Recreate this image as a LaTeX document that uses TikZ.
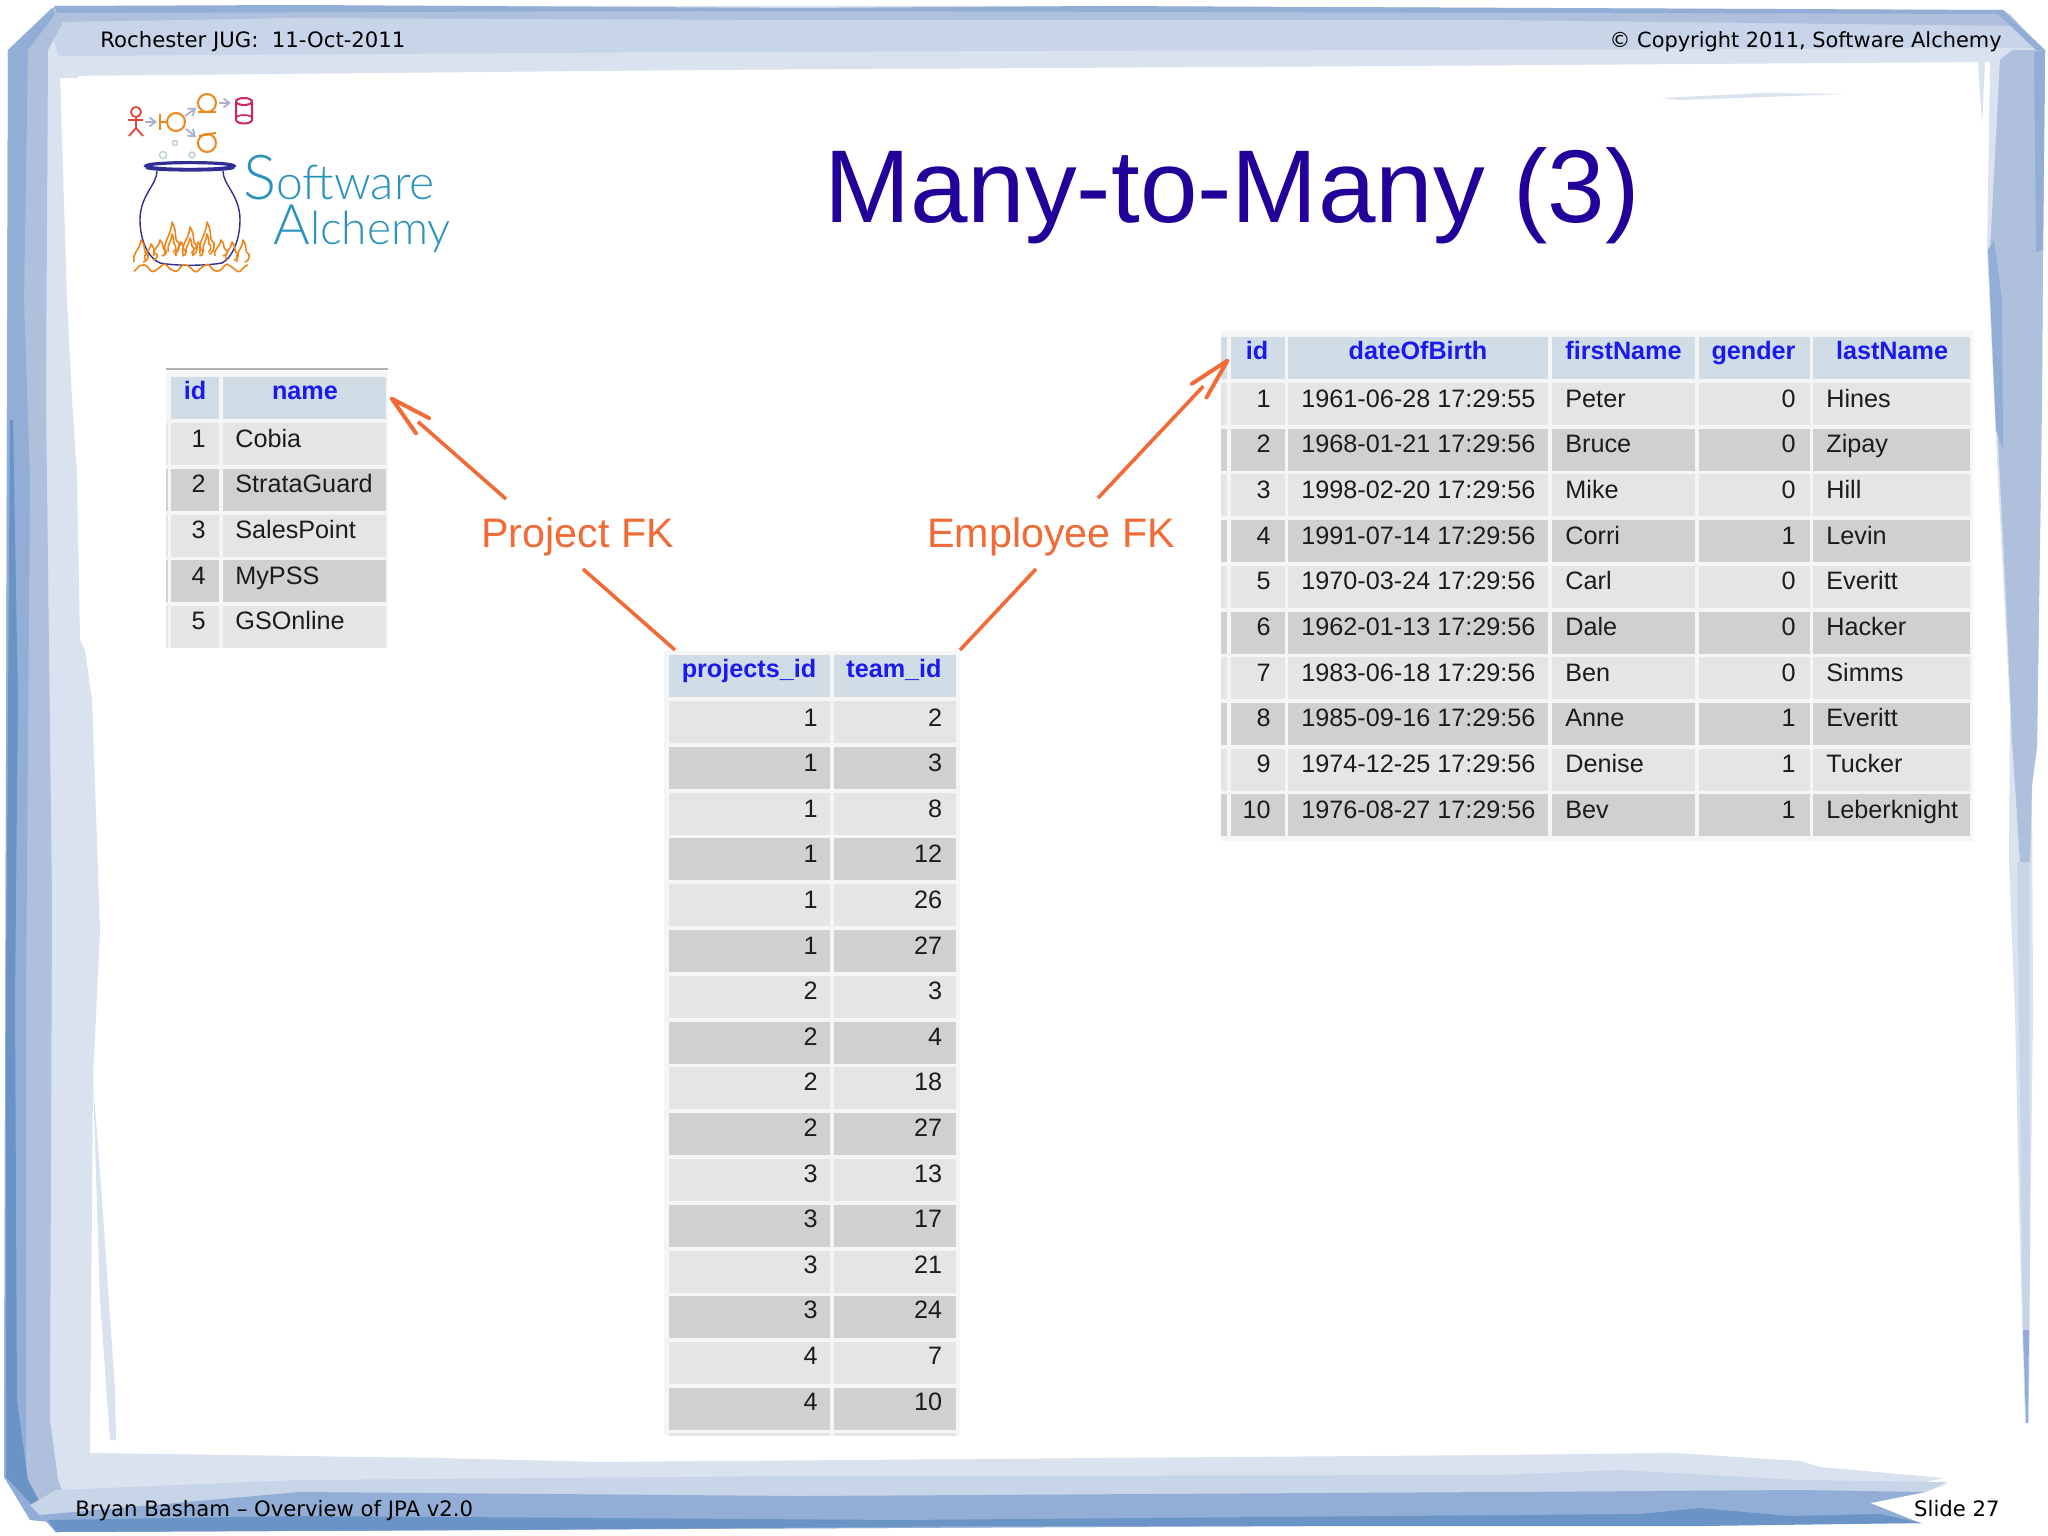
\documentclass[tikz,border=0pt]{standalone}
\usepackage{fontspec}
\setmainfont{Liberation Sans}
\newfontfamily\verd{DejaVu Sans}
\newfontfamily\logofont{Lato Light}
\usetikzlibrary{arrows.meta}
\definecolor{hdrbg}{HTML}{D0DCE6}
\definecolor{rowL}{HTML}{E5E5E5}
\definecolor{rowD}{HTML}{D0D0D0}
\definecolor{tblbg}{HTML}{F5F5F5}
\definecolor{hdrtxt}{HTML}{1A1AF0}
\definecolor{celltxt}{HTML}{1C1C1C}
\definecolor{fkc}{HTML}{F26A35}
\definecolor{titlec}{HTML}{22009A}
\definecolor{fr1}{HTML}{DAE2EF}
\definecolor{fr2}{HTML}{C8D4E8}
\definecolor{fr3}{HTML}{AEC0DC}
\definecolor{fr4}{HTML}{93AED6}
\definecolor{fr5}{HTML}{6A94C6}
\definecolor{logoblue}{HTML}{2A92BE}
\definecolor{logonavy}{HTML}{2E2E96}
\definecolor{logoorange}{HTML}{EF861C}
\definecolor{logored}{HTML}{E2453C}
\definecolor{logocrim}{HTML}{CE2460}
\definecolor{logogray}{HTML}{A9B1CF}
\definecolor{logobub}{HTML}{BBD0D2}
\pgfdeclarearrow{
  name=fkopen,
  setup code={\pgfarrowssettipend{0pt}\pgfarrowssetlineend{-18pt}\pgfarrowssetbackend{-21.5pt}\pgfarrowssetvisualbackend{-21.5pt}},
  drawing code={\pgfsetlinewidth{2pt}\pgfsetroundcap\pgfsetroundjoin
    \pgfpathmoveto{\pgfqpoint{-21pt}{5pt}}\pgfpathlineto{\pgfqpoint{-0.5pt}{0pt}}\pgfpathlineto{\pgfqpoint{-21pt}{-5pt}}\pgfusepathqstroke},
  defaults={}
}
\tikzset{
  x=0.5pt,y=-0.5pt,
  celltext/.style={inner sep=0pt,text=celltxt,font=\fontsize{12.6}{14}\selectfont},
  cellL/.style={celltext,anchor=base west},
  cellR/.style={celltext,anchor=base east},
  hdrcell/.style={inner sep=0pt,anchor=base,text=hdrtxt,font=\fontsize{12.6}{14}\selectfont\bfseries},
  fkline/.style={draw=fkc,line width=1.8pt},
  fklabel/.style={inner sep=0pt,anchor=base west,text=fkc,font=\fontsize{20.6}{24}\selectfont},
  footer/.style={inner sep=0pt,text=black,font=\verd\fontsize{10.6}{12}\selectfont},
  flamest/.style={draw=logoorange,line width=0.8pt,line join=round},
  logotxt/.style={inner sep=0pt,anchor=base west,text=logoblue,font=\logofont},
  umlg/.style={draw=logogray,line width=0.9pt,-{Straight Barb[length=3pt,width=4.5pt]}},
  umlo/.style={draw=logoorange,line width=1pt},
}
\newcommand{\cellbox}[5]{\fill[#1] ({#2},{#4}) rectangle ({#3},{#4+#5});}
\newcommand{\flameshape}[4]{\draw[flamest] ({#1-#3},{#2}) .. controls ({#1-#3-2},{#2-0.45*#4}) and ({#1-0.2*#3},{#2-0.5*#4}) .. ({#1},{#2-#4}) .. controls ({#1+0.9*#3},{#2-0.65*#4}) and ({#1+0.1*#3},{#2-0.45*#4}) .. ({#1+#3},{#2-0.35*#4}) .. controls ({#1+#3+1},{#2-0.15*#4}) and ({#1+0.7*#3},{#2}) .. ({#1+0.3*#3},{#2});}
\begin{document}
\begin{tikzpicture}
\useasboundingbox (0,0) rectangle (2048,1535);
\fill[white] (0,0) rectangle (2048,1535);
% ---------- frame: lightest layer
\fill[fr1] (55,6) -- (1000,6) -- (2003,10) -- (2045,50) -- (2043,250) -- (2042,403) -- (2037,747) -- (2032,785) -- (2033,1015) -- (2030,1245) -- (2029,1423) -- (2025,1423) -- (2020,1245) -- (2015,1015) -- (2009,862) -- (2010,709) -- (1998,480) -- (1987,250) -- (1990,62) -- (1400,66) -- (700,70) -- (60,76) -- (67,300) -- (72,400) -- (77,475) -- (80,640) -- (85,650) -- (92,700) -- (100,930) -- (93,1080) -- (90,1453) -- (440,1458) -- (600,1462) -- (1100,1458) -- (1500,1455) -- (1675,1453) -- (1800,1461) -- (1820,1467) -- (1944,1478) -- (1925,1482) -- (1947,1484) -- (1925,1492) -- (1870,1503) -- (1920,1523) -- (56,1532) -- (4,1477) -- (6,1100) -- (8,50) -- cycle;
\fill[fr1] (93,1080) -- (102,1200) -- (115,1390) -- (116,1440) -- (110,1440) -- (100,1300) -- cycle;
\fill[fr1] (1660,98) -- (1765,93) -- (1846,94) -- (1765,97) -- (1680,100) -- cycle;
\fill[fr1] (1978,62) -- (1985,62) -- (1982,125) -- cycle;
\fill[fr1] (60,50) -- (78,50) -- (78,78) -- (60,78) -- cycle;
% ---------- top band
\fill[fr2] (50,20) -- (700,16) -- (2010,14) -- (2040,48) -- (1400,50) -- (700,52) -- (58,56) -- cycle;
\fill[fr3] (50,12) -- (1000,10) -- (2003,12) -- (2020,26) -- (1500,20) -- (800,20) -- (300,18) -- (55,22) -- cycle;
\fill[fr4] (55,6) -- (300,5) -- (800,8) -- (1100,6) -- (2003,10) -- (2008,14) -- (1200,12) -- (700,11) -- (50,13) -- cycle;
% ---------- left band
\fill[fr3] (8,50) -- (55,8) -- (62,24) -- (48,50) -- (46,400) -- (52,900) -- (50,1420) -- (58,1480) -- (70,1510) -- (30,1510) -- (4,1477) -- cycle;
\fill[fr4] (8,50) -- (52,8) -- (55,14) -- (28,50) -- (24,300) -- (30,480) -- (26,1000) -- (26,1480) -- (50,1522) -- (30,1520) -- (4,1477) -- cycle;
\fill[fr5] (10,420) -- (13,420) -- (18,700) -- (15,1000) -- (17,1400) -- (28,1480) -- (56,1532) -- (46,1520) -- (6,1477) -- (6,1000) -- cycle;
% ---------- right band
\fill[fr3] (2012,50) -- (2045,50) -- (2043,250) -- (2042,403) -- (2037,747) -- (2032,785) -- (2030,862) -- (2020,862) -- (2012,740) -- (2006,600) -- (1996,400) -- (1990,250) -- (2000,60) -- cycle;
\fill[fr4] (2003,10) -- (2045,50) -- (2036,50) -- (1998,14) -- cycle;
\fill[fr4] (2034,52) -- (2045,50) -- (2043,250) -- (2036,252) -- cycle;
\fill[fr4] (1988,250) -- (1994,240) -- (2002,300) -- (2003,450) -- (1996,430) -- cycle;
\fill[fr2] (2017,862) -- (2029,862) -- (2030,1245) -- (2029,1350) -- (2023,1350) -- (2020,1100) -- cycle;
\fill[fr4] (2023,1330) -- (2029,1330) -- (2028,1423) -- (2026,1423) -- cycle;
% ---------- bottom band
\fill[fr2] (56,1490) -- (300,1480) -- (800,1476) -- (1500,1475) -- (1620,1470) -- (1800,1480) -- (1947,1482) -- (1925,1492) -- (1870,1503) -- (1920,1523) -- (56,1532) -- (30,1505) -- cycle;
\fill[fr4] (40,1515) -- (300,1492) -- (800,1496) -- (1500,1492) -- (1800,1490) -- (1925,1492) -- (1870,1503) -- (1920,1523) -- (56,1532) -- cycle;
\fill[fr5] (56,1532) -- (48,1520) -- (300,1516) -- (900,1520) -- (1640,1514) -- (1700,1508) -- (1790,1516) -- (1880,1514) -- (1922,1523) -- (1700,1526) -- (1000,1526) -- (500,1530) -- cycle;
% ---------- header and footer texts
\node[footer,anchor=base west] (hdrL) at (100,48) {Rochester JUG:\ \ 11-Oct-2011};
\node[footer,anchor=base east,font=\verd\fontsize{10.45}{12}\selectfont] (hdrR) at (2002,48) {© Copyright 2011, Software Alchemy};
\node[footer,anchor=base west] (ftrL) at (75,1516) {Bryan Basham – Overview of JPA v2.0};
\node[footer,anchor=base east] (ftrR) at (2000,1516) {Slide 27};
% ---------- title
\node[inner sep=0pt,anchor=base,text=titlec,font=\fontsize{51.7}{60}\selectfont] (title) at (1232,223) {Many-to-Many (3)};
% ---------- logo
\begin{scope}
\draw[draw=logored,line width=0.9pt] (136,112) circle (5);
\draw[draw=logored,line width=0.9pt] (136,117) -- (136,128) (128,120) -- (143,120) (129,136) -- (136,128) -- (143,136);
\draw[umlg] (145,122) -- (157,122);
\draw[umlo] (160,114) -- (160,130) (160,122) -- (167,122);
\draw[umlo] (176,122) circle (9);
\draw[umlg] (185,116) -- (196,108);
\draw[umlg] (186,129) -- (196,137);
\draw[umlo] (207,103) circle (9);
\draw[umlo] (198,112) -- (216,112);
\draw[umlg] (219,103) -- (231,103);
\draw[draw=logocrim,line width=1pt] (236,102) -- (236,120) arc[start angle=180,end angle=360,x radius=8,y radius=-3.5] -- (252,102);
\draw[draw=logocrim,line width=1pt] (244,101.5) ellipse (8 and 3.5);
\draw[draw=logocrim,line width=0.8pt] (236,118) arc[start angle=180,end angle=0,x radius=8,y radius=-3];
\draw[umlo] (207,143) circle (9);
\draw[umlo] (199,136) -- (216,133);
\draw[draw=logobub,line width=0.7pt] (163,155) circle (3.5) (175,143) circle (2.5) (192,155) circle (3);
\draw[draw=logonavy,line width=1.6pt] (190,166) ellipse (44 and 3.4);
\draw[draw=logonavy,line width=0.6pt] (146,168) .. controls (146,172) and (234,172) .. (234,168);
\draw[draw=logonavy,line width=0.7pt] (157,171) .. controls (157,185) and (140,195) .. (140,220) .. controls (140,240) and (148,258) .. (160,263) .. controls (175,266) and (205,266) .. (222,263) .. controls (232,258) and (240,240) .. (240,220) .. controls (240,195) and (223,185) .. (223,171);
\flameshape{172}{254}{7}{32}
\flameshape{172}{252}{3.5}{18}
\flameshape{190}{255}{7}{28}
\flameshape{190}{253}{3.5}{15}
\flameshape{207}{254}{7}{32}
\flameshape{207}{252}{3.5}{18}
\flameshape{160}{256}{6}{16}
\flameshape{221}{256}{6}{16}
\flameshape{181}{256}{5}{14}
\flameshape{198}{256}{5}{14}
\flameshape{141}{262}{7}{22}
\flameshape{151}{260}{6}{16}
\flameshape{232}{260}{6}{18}
\flameshape{243}{262}{6}{22}
\draw[flamest] plot[smooth,domain=134:248,samples=45] (\x,{268+3.5*sin(\x*17)+0.5*sin(\x*41)});
\end{scope}
\node[logotxt] (logoA) at (243,200) {\fontsize{31}{31}\selectfont S\fontsize{24}{24}\selectfont oftware};
\node[logotxt] (logoB) at (273,245) {\fontsize{28}{28}\selectfont A\fontsize{23}{23}\selectfont lchemy};
% ---------- table: projects
\fill[tblbg] (166,371) rectangle (388,648);
\draw[draw=black!30,line width=0.6pt] (166,369) -- (388,369);
\cellbox{hdrbg}{171}{219}{377}{42}
\cellbox{hdrbg}{223}{386}{377}{42}
\node[hdrcell] (pHid) at (195,399) {id};
\node[hdrcell] (pHname) at (305,399) {name};
\foreach \i/\n in {1/Cobia,2/StrataGuard,3/SalesPoint,4/MyPSS,5/GSOnline}{
  \ifodd\i\def\rc{rowL}\else\def\rc{rowD}\fi
  \pgfmathsetmacro\tp{423+(\i-1)*45.8}
  \pgfmathsetmacro\bs{447+(\i-1)*45.7}
  \cellbox{\rc}{171}{219}{\tp}{42}
  \cellbox{\rc}{223}{386}{\tp}{42}
  \cellbox{\rc}{166}{168}{\tp}{42}
  \node[cellR] (pid\i) at (206,\bs) {\i};
  \node[cellL] (pname\i) at (235,\bs) {\n};
}
% ---------- table: join
\fill[tblbg] (664,651) rectangle (960,1436);
\cellbox{hdrbg}{669}{830}{655}{42}
\cellbox{hdrbg}{834}{956}{655}{42}
\node[hdrcell] (jHp) at (749,677) {projects\_id};
\node[hdrcell] (jHt) at (894,677) {team\_id};
\foreach \a/\p/\t [count=\i] in {a/1/2,b/1/3,c/1/8,d/1/12,e/1/26,f/1/27,g/2/3,h/2/4,k/2/18,l/2/27,m/3/13,n/3/17,o/3/21,q/3/24,r/4/7,s/4/10}{
  \ifodd\i\def\rc{rowL}\else\def\rc{rowD}\fi
  \pgfmathsetmacro\tp{701+(\i-1)*45.8}
  \pgfmathsetmacro\bs{726+(\i-1)*45.6}
  \cellbox{\rc}{669}{830}{\tp}{42}
  \cellbox{\rc}{834}{956}{\tp}{42}
  \node[cellR] (jp\a) at (818,\bs) {\p};
  \node[cellR] (jt\a) at (942.5,\bs) {\t};
}
\cellbox{rowL}{669}{830}{1433}{3}
\cellbox{rowL}{834}{956}{1433}{3}
% ---------- table: employees
\fill[tblbg] (1221,331) rectangle (1973,841);
\cellbox{hdrbg}{1231}{1285}{337}{42}
\cellbox{hdrbg}{1288}{1548}{337}{42}
\cellbox{hdrbg}{1552}{1695}{337}{42}
\cellbox{hdrbg}{1699}{1810}{337}{42}
\cellbox{hdrbg}{1813}{1970}{337}{42}
\cellbox{hdrbg}{1221}{1227}{337}{42}
\node[hdrcell] (eHid) at (1257,359) {id};
\node[hdrcell] (eHd) at (1418,359) {dateOfBirth};
\node[hdrcell] (eHf) at (1623.5,359) {firstName};
\node[hdrcell] (eHg) at (1753.5,359) {gender};
\node[hdrcell] (eHl) at (1892,359) {lastName};
\foreach \d/\f/\g/\l [count=\i] in {
  1961-06-28 17:29:55/Peter/0/Hines,
  1968-01-21 17:29:56/Bruce/0/Zipay,
  1998-02-20 17:29:56/Mike/0/Hill,
  1991-07-14 17:29:56/Corri/1/Levin,
  1970-03-24 17:29:56/Carl/0/Everitt,
  1962-01-13 17:29:56/Dale/0/Hacker,
  1983-06-18 17:29:56/Ben/0/Simms,
  1985-09-16 17:29:56/Anne/1/Everitt,
  1974-12-25 17:29:56/Denise/1/Tucker,
  1976-08-27 17:29:56/Bev/1/Leberknight}{
  \ifodd\i\def\rc{rowL}\else\def\rc{rowD}\fi
  \pgfmathsetmacro\tp{383+(\i-1)*45.7}
  \pgfmathsetmacro\bs{407+(\i-1)*45.67}
  \cellbox{\rc}{1231}{1285}{\tp}{42}
  \cellbox{\rc}{1288}{1548}{\tp}{42}
  \cellbox{\rc}{1552}{1695}{\tp}{42}
  \cellbox{\rc}{1699}{1810}{\tp}{42}
  \cellbox{\rc}{1813}{1970}{\tp}{42}
  \cellbox{\rc}{1221}{1227}{\tp}{42}
  \node[cellR] (eid\i) at (1271,\bs) {\i};
  \node[cellL] (ed\i) at (1301,\bs) {\d};
  \node[cellL] (ef\i) at (1565,\bs) {\f};
  \node[cellR] (eg\i) at (1796,\bs) {\g};
  \node[cellL] (el\i) at (1826,\bs) {\l};
}
% ---------- connectors
\node[fklabel] (pfk) at (481,547) {Project FK};
\node[fklabel] (efk) at (927,547) {Employee FK};
\coordinate (pfkUp) at (506,499);
\coordinate (pfkTip) at (391,398);
\coordinate (pfkDn) at (583,569);
\coordinate (pfkEnd) at (675,650);
\coordinate (efkUp) at (1098,498);
\coordinate (efkTip) at (1228,360);
\coordinate (efkDn) at (1036,569);
\coordinate (efkEnd) at (960,650);
\draw[fkline,-{fkopen}] (pfkUp) -- (pfkTip);
\draw[fkline] (pfkDn) -- (pfkEnd);
\draw[fkline,-{fkopen}] (efkUp) -- (efkTip);
\draw[fkline] (efkDn) -- (efkEnd);
\end{tikzpicture}
\end{document}
